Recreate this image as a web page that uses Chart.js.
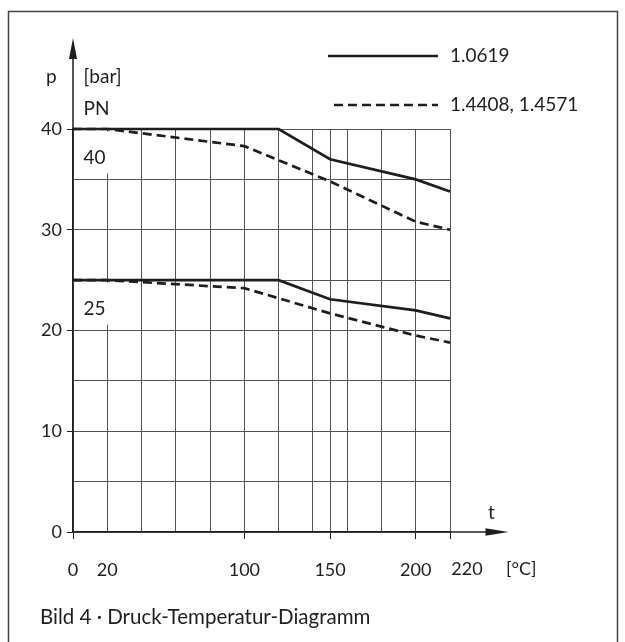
<!DOCTYPE html>
<html lang="de">
<head>
<meta charset="utf-8">
<title>Druck-Temperatur-Diagramm</title>
<script src="https://cdn.jsdelivr.net/npm/chart.js@4.4.1/dist/chart.umd.min.js"></script>
<style>
  html, body { margin: 0; padding: 0; background: #fff; }
  #chart { display: block; }
</style>
</head>
<body>
<canvas id="chart" width="625" height="642"></canvas>
<script>
/* ---- data ---- */
const SOLID_TEMPS = [0, 120, 150, 200, 220];
const SOLID_PN40 = [40, 40, 37, 35, 33.8];
const SOLID_PN25 = [25, 25, 23.1, 22, 21.2];

const DASHED_TEMPS = [0, 20, 100, 150, 200, 220];
const DASHED_PN40 = [40, 40, 38.3, 34.8, 30.8, 30];
const DASHED_PN25 = [25, 25, 24.2, 21.7, 19.5, 18.8];

const X_GRID = [0, 20, 40, 60, 80, 100, 120, 140, 150, 160, 180, 200, 220];
const X_LABELS = [0, 20, 100, 150, 200];
const X_LAST_LABEL = 220;                 // printed a bit right of its tick, next to the unit
const X_TICK_MARKS = [0, 100, 150, 200, 220];
const Y_LABELS = [0, 10, 20, 30, 40];
const PN_CLASSES = [40, 25];
const LEGEND_LABELS = ['1.0619', '1.4408, 1.4571'];
const CAPTION = 'Bild 4 · Druck-Temperatur-Diagramm';

const INK = '#1e1e1e';
const GRID = '#555';
const FONT_FAMILY = "Lato, 'Noto Sans', sans-serif";
const FONT = `19px ${FONT_FAMILY}`;
const TICK_FONT = `18px ${FONT_FAMILY}`;
const DASH = [9, 5];

const toPoints = (xs, ys) => xs.map((x, i) => ({ x, y: ys[i] }));

const lineStyle = (dashed) => ({
  borderColor: INK,
  borderWidth: 2.7,
  borderDash: dashed ? DASH : [],
  pointRadius: 0,
  tension: 0,
  fill: false,
  clip: false,
});

/* ---- extras Chart.js has no option for: arrows, labels, legend, frame ---- */
const decor = {
  id: 'decor',
  beforeDatasetsDraw(chart) {
    const { ctx, scales: { x, y } } = chart;
    ctx.save();
    ctx.font = FONT;
    ctx.textBaseline = 'middle';
    PN_CLASSES.forEach((pn) => {
      const top = y.getPixelForValue(pn);
      ctx.fillStyle = '#fff';                       // break the 20°C grid line behind the label
      ctx.fillRect(x.left + 2, top + 2.5, 38, 42);
      ctx.fillStyle = INK;
      ctx.fillText(String(pn), x.left + 10.5, top + 28.5);
    });
    ctx.restore();
  },
  afterDraw(chart) {
    const { ctx, chartArea: a, scales: { x } } = chart;
    ctx.save();
    ctx.strokeStyle = INK;
    ctx.fillStyle = INK;

    // y axis arrow
    const tipY = a.top - 91;
    ctx.lineWidth = 1.5;
    ctx.beginPath();
    ctx.moveTo(a.left, a.top);
    ctx.lineTo(a.left, tipY + 10);
    ctx.stroke();
    ctx.beginPath();
    ctx.moveTo(a.left, tipY);
    ctx.lineTo(a.left - 4, tipY + 21);
    ctx.lineTo(a.left + 4, tipY + 21);
    ctx.closePath();
    ctx.fill();

    // x axis arrow
    const tipX = a.right + 58.5;
    ctx.beginPath();
    ctx.moveTo(a.right, a.bottom);
    ctx.lineTo(tipX - 10, a.bottom);
    ctx.stroke();
    ctx.beginPath();
    ctx.moveTo(tipX, a.bottom);
    ctx.lineTo(tipX - 23, a.bottom - 3.8);
    ctx.lineTo(tipX - 23, a.bottom + 3.8);
    ctx.closePath();
    ctx.fill();

    // axis names
    ctx.font = FONT;
    ctx.textBaseline = 'middle';
    ctx.textAlign = 'left';
    ctx.fillText('p', 46, 77);
    ctx.fillText('[bar]', a.left + 10.5, 77);
    ctx.fillText('PN', a.left + 10.5, 109);
    ctx.textAlign = 'center';
    ctx.fillText('t', a.right + 41.5, a.bottom - 19);
    ctx.font = TICK_FONT;
    ctx.fillText(String(X_LAST_LABEL), x.getPixelForValue(X_LAST_LABEL) + 17, a.bottom + 37.5);
    ctx.textAlign = 'left';
    ctx.fillText('[°C]', a.right + 56, a.bottom + 37.5);

    // legend
    ctx.font = FONT;
    const legendY = [56, 105];
    LEGEND_LABELS.forEach((label, i) => {
      ctx.lineWidth = 2.7;
      ctx.setLineDash(i === 0 ? [] : DASH);
      ctx.beginPath();
      ctx.moveTo(i === 0 ? 328 : 334, legendY[i]);
      ctx.lineTo(438, legendY[i]);
      ctx.stroke();
      ctx.setLineDash([]);
      ctx.fillText(label, 450, legendY[i]);
    });

    // caption
    ctx.font = `20.5px ${FONT_FAMILY}`;
    ctx.fillText(CAPTION, 40, 617);

    // frame
    ctx.strokeStyle = '#444';
    ctx.lineWidth = 1.5;
    ctx.strokeRect(8.5, 11.5, 609, 700);
    ctx.restore();
  },
};

/* ---- chart ---- */
new Chart(document.getElementById('chart'), {
  type: 'line',
  data: {
    datasets: [
      { label: LEGEND_LABELS[1], data: toPoints(DASHED_TEMPS, DASHED_PN40), ...lineStyle(true) },
      { label: LEGEND_LABELS[1], data: toPoints(DASHED_TEMPS, DASHED_PN25), ...lineStyle(true) },
      { label: LEGEND_LABELS[0], data: toPoints(SOLID_TEMPS, SOLID_PN40), ...lineStyle(false) },
      { label: LEGEND_LABELS[0], data: toPoints(SOLID_TEMPS, SOLID_PN25), ...lineStyle(false) },
    ],
  },
  options: {
    responsive: false,
    animation: false,
    devicePixelRatio: 1,
    layout: { padding: { top: 129, right: 175, bottom: 60, left: 0 } },
    plugins: { legend: { display: false }, tooltip: { enabled: false } },
    scales: {
      x: {
        type: 'linear',
        min: 0,
        max: 220,
        afterBuildTicks: (scale) => { scale.ticks = X_GRID.map((v) => ({ value: v })); },
        afterFit: (scale) => { scale.height = 50; },
        grid: {
          color: GRID,
          lineWidth: 1,
          tickLength: 7,
          tickColor: (c) => (X_TICK_MARKS.includes(c.tick.value) ? INK : 'rgba(0,0,0,0)'),
        },
        border: { display: true, color: INK, width: 1.5 },
        ticks: {
          autoSkip: false,
          maxRotation: 0,
          padding: 20,
          color: INK,
          font: { family: FONT_FAMILY, size: 18 },
          callback: (v) => (X_LABELS.includes(v) ? String(v) : ''),
        },
      },
      y: {
        min: 0,
        max: 40,
        afterFit: (scale) => { scale.width = 73; },
        grid: {
          color: GRID,
          lineWidth: 1,
          tickLength: 6,
          tickColor: (c) => (Y_LABELS.includes(c.tick.value) ? INK : 'rgba(0,0,0,0)'),
        },
        border: { display: true, color: INK, width: 1.5 },
        ticks: {
          stepSize: 5,
          padding: 5,
          color: INK,
          font: { family: FONT_FAMILY, size: 18 },
          callback: (v) => (Y_LABELS.includes(v) ? String(v) : ''),
        },
      },
    },
  },
  plugins: [decor],
});
</script>
</body>
</html>
